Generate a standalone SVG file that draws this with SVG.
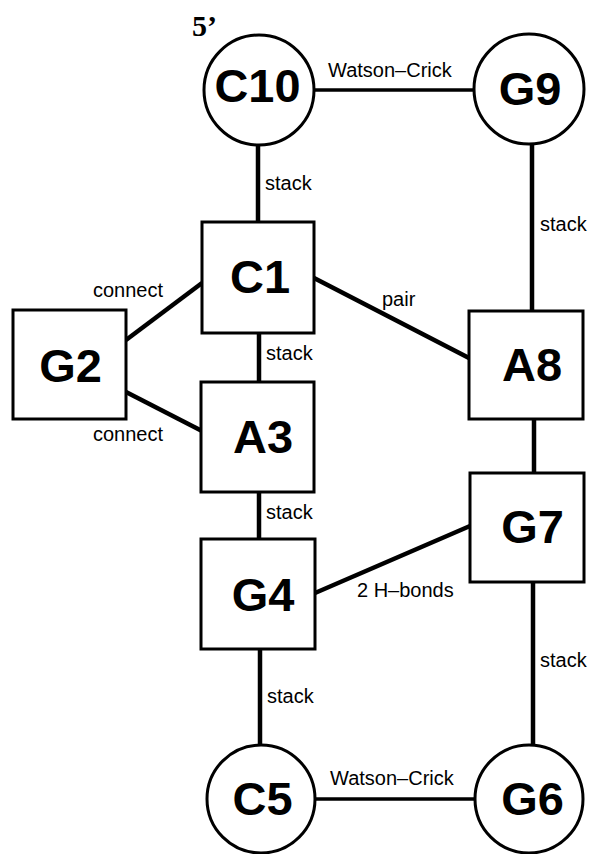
<svg xmlns="http://www.w3.org/2000/svg" width="591" height="854" viewBox="0 0 591 854">
  <style>
    .node { fill: #fff; stroke: #000; stroke-width: 3; }
    .name { font-family: "Liberation Sans", Arial, sans-serif; font-weight: bold; font-size: 47px; text-anchor: middle; fill: #000; }
    .edge { stroke: #000; stroke-width: 4.5; fill: none; }
    .wc { stroke: #000; stroke-width: 3.5; fill: none; }
    .lbl { font-family: "Liberation Sans", Arial, sans-serif; font-size: 20px; fill: #000; }
  </style>
  <rect width="591" height="854" fill="#fff"/>

  <!-- connectors -->
  <g id="connectors">
    <line class="edge" x1="258" y1="144" x2="258" y2="222"/>
    <line class="edge" x1="259" y1="333" x2="259" y2="382"/>
    <line class="edge" x1="259" y1="492" x2="259" y2="539"/>
    <line class="edge" x1="260" y1="649" x2="260" y2="745"/>
    <line class="edge" x1="532" y1="144" x2="532" y2="311"/>
    <line class="edge" x1="534" y1="419" x2="534" y2="473"/>
    <line class="edge" x1="533" y1="582" x2="533" y2="745"/>
    <line class="wc" x1="313" y1="90" x2="475" y2="90"/>
    <line class="wc" x1="314" y1="799" x2="476" y2="799"/>
    <line class="edge" x1="126" y1="340" x2="202" y2="283"/>
    <line class="edge" x1="126" y1="392" x2="202" y2="431"/>
    <line class="edge" x1="314" y1="278" x2="469" y2="358"/>
    <line class="edge" x1="315" y1="593" x2="470" y2="526"/>

    <text class="lbl" x="328" y="77">Watson–Crick</text>
    <text class="lbl" x="330" y="785">Watson–Crick</text>
    <text class="lbl" x="265" y="190">stack</text>
    <text class="lbl" x="266" y="360">stack</text>
    <text class="lbl" x="266" y="519">stack</text>
    <text class="lbl" x="267" y="703">stack</text>
    <text class="lbl" x="540" y="231">stack</text>
    <text class="lbl" x="540" y="667">stack</text>
    <text class="lbl" x="93" y="297">connect</text>
    <text class="lbl" x="93" y="441">connect</text>
    <text class="lbl" x="382" y="306">pair</text>
    <text class="lbl" x="357" y="597">2 H–bonds</text>
  </g>

  <!-- 5' end marker -->
  <text x="192" y="36" font-family="'Liberation Serif', 'Times New Roman', serif" font-weight="bold" font-size="30">5’</text>

  <!-- nodes -->
  <g id="C10">
    <circle class="node" cx="259" cy="90" r="55"/>
    <text class="name" x="257.5" y="102" font-size="42" textLength="86" lengthAdjust="spacingAndGlyphs">C10</text>
  </g>
  <g id="G9">
    <circle class="node" cx="529" cy="89" r="55"/>
    <text class="name" x="530" y="105">G9</text>
  </g>
  <g id="C1">
    <rect class="node" x="202" y="222" width="112" height="111"/>
    <text class="name" x="260" y="293">C1</text>
  </g>
  <g id="G2">
    <rect class="node" x="13" y="310" width="113" height="109"/>
    <text class="name" x="70.5" y="382">G2</text>
  </g>
  <g id="A3">
    <rect class="node" x="201" y="382" width="113" height="110"/>
    <text class="name" x="263" y="453">A3</text>
  </g>
  <g id="G4">
    <rect class="node" x="201" y="539" width="114" height="110"/>
    <text class="name" x="263" y="611">G4</text>
  </g>
  <g id="A8">
    <rect class="node" x="469" y="311" width="114" height="108"/>
    <text class="name" x="532" y="381">A8</text>
  </g>
  <g id="G7">
    <rect class="node" x="470" y="473" width="114" height="109"/>
    <text class="name" x="532.5" y="543">G7</text>
  </g>
  <g id="C5">
    <circle class="node" cx="261" cy="799" r="54"/>
    <text class="name" x="262.5" y="815">C5</text>
  </g>
  <g id="G6">
    <circle class="node" cx="529" cy="799" r="54"/>
    <text class="name" x="532.5" y="815">G6</text>
  </g>
</svg>
